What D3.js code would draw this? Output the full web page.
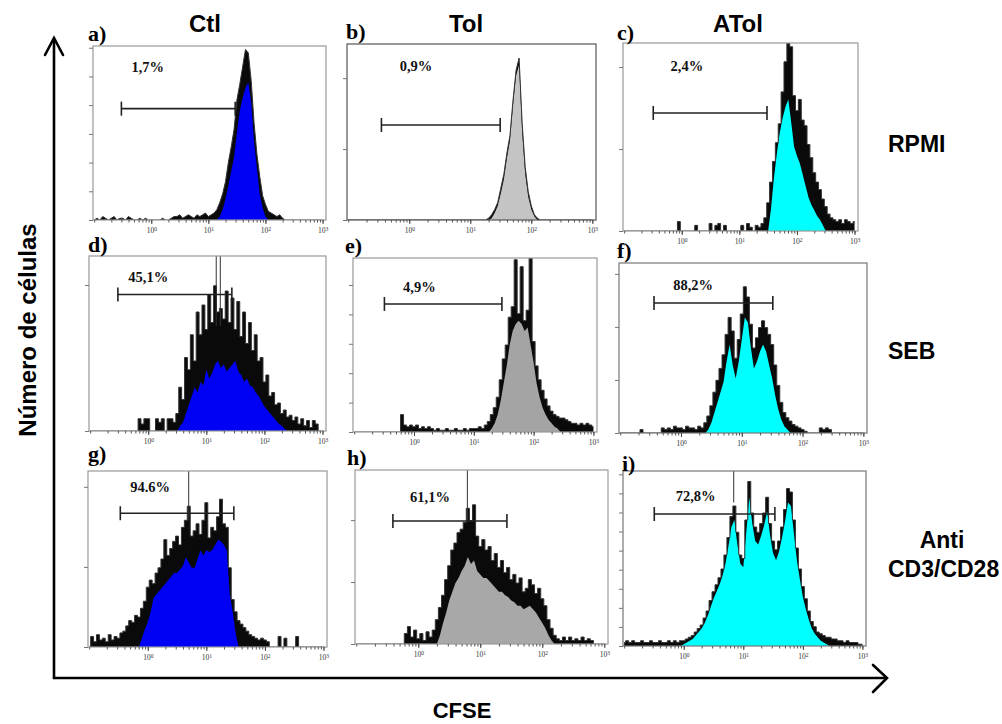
<!DOCTYPE html>
<html><head><meta charset="utf-8">
<script src="https://cdn.jsdelivr.net/npm/d3@7"></script>
<style>body{margin:0;background:#fff;overflow:hidden}</style>
</head><body>
<svg id="chart" width="1002" height="724"></svg>
<script>
// ---------------- DATA ----------------
const panelIds = ["a","b","c","d","e","f","g","h","i"];
const columnLabels = ["Ctl","Tol","ATol"];
const rowLabels = ["RPMI","SEB","Anti","CD3/CD28"];
const axisTitleX = "CFSE";
const axisTitleY = "Número de células";
const percentLabels = ["1,7%","0,9%","2,4%","45,1%","4,9%","88,2%","94.6%","61,1%","72,8%"];
const gateLow  = [0.30,0.35,0.32,0.30,0.32,0.36,0.34,0.39,0.32];
const gateHigh = [29.5,30.9,30.2,27.5,29.5,32.4,29.5,26.9,33.9];
const gateLevel = [64,54,62.8,78,73.6,76.5,76,70.7,75.4];
const labelAt = [0.87,1.29,1.23,1.0,1.23,1.58,1.1,1.55,1.58];
const labelLevel = [85,84.7,85,85,80.5,84,88,81.6,82.9];
const xTickValues = [1,10,100,1000];
const countTickStep = [16.5,40.3,43.6,83.4,16.9,31.2,45.5,35.6,10.9];
// channels: log10 CFSE from -1 to 3 in steps of 0.05 (81 channels)
const channelLogStart = -1, channelLogStep = 0.05;

// counts (% of panel full scale) — envelope of events (black) and filled body
const ctlRpmiUpper = [0,1,0,2,1,0,1,2,0,1, 1,0,2,1,0,0,1,0,1,0, 0,0,0,0,1,0,0,1,2,2, 3,1,2,3,2,1,3,2,3,4,
  2,3,4,6,10,15,22,33,42,52, 69,78,88,98,96,80,56,38,25,14, 9,5,4,3,2,3,1,0,0,0, 0,0,0,0,0,0,0,0,0,0, 0];
const ctlRpmiFill = [0,0,0,0,0,0,0,0,0,0, 0,0,0,0,0,0,0,0,0,0, 0,0,0,0,0,0,0,0,0,0, 0,0,0,0,0,0,0,0,0,0,
  0,0,0,0,2,6,12,20,28,36, 50,63,70,76,79,68,45,30,15,7, 2,0,0,0,0,0,0,0,0,0, 0,0,0,0,0,0,0,0,0,0, 0];
const tolRpmiUpper = [0,0,0,0,0,0,0,0,0,0, 0,0,0,0,0,0,0,0,0,0, 0,0,0,0,0,0,0,0,0,0, 0,0,0,0,0,0,0,0,0,0,
  0,0,0,0,0,0,1,3,6,10, 18,26,38,48,68,85,92,55,30,16, 8,3,1,0,0,0,0,0,0,0, 0,0,0,0,0,0,0,0,0,0, 0];
const tolRpmiFill = [0,0,0,0,0,0,0,0,0,0, 0,0,0,0,0,0,0,0,0,0, 0,0,0,0,0,0,0,0,0,0, 0,0,0,0,0,0,0,0,0,0,
  0,0,0,0,0,0,0,1,4,8, 15,23,35,45,65,82,88,50,26,13, 6,2,0,0,0,0,0,0,0,0, 0,0,0,0,0,0,0,0,0,0, 0];
const atolRpmiUpper = [0,0,0,0,0,0,0,0,0,0, 0,0,0,0,0,0,0,0,0,5, 0,0,0,0,0,3,0,0,0,0, 4,0,3,4,0,3,0,0,0,0,
  0,3,0,4,2,0,3,2,4,7, 15,26,37,47,57,74,90,100,98,72, 64,70,59,56,46,39,31,26,22,17, 13,9,7,6,5,6,4,6,5,4, 5];
const atolRpmiFill = [0,0,0,0,0,0,0,0,0,0, 0,0,0,0,0,0,0,0,0,0, 0,0,0,0,0,0,0,0,0,0, 0,0,0,0,0,0,0,0,0,0,
  0,0,0,0,0,0,0,0,0,0, 0,12,28,41,52,60,66,70,58,45, 40,36,30,24,18,14,11,8,6,3, 0,0,0,0,0,0,0,0,0,0, 0];
const ctlSebUpper = [0,0,0,0,0,0,0,0,0,0, 0,0,0,0,0,0,0,7,4,7, 7,0,0,7,5,7,0,7,7,5, 10,25,18,42,35,55,40,68,55,72,
  58,78,62,83,68,70,64,80,62,76, 58,74,54,68,50,62,46,55,40,42, 28,32,20,22,15,16,10,12,8,9, 6,8,4,7,3,6,2,6,4,0, 0];
const ctlSebFill = [0,0,0,0,0,0,0,0,0,0, 0,0,0,0,0,0,0,0,0,0, 0,0,0,0,0,0,0,0,0,0, 0,3,5,10,15,20,25,22,28,26,
  35,30,33,38,40,36,38,34,36,38, 40,34,32,28,30,26,25,22,20,17, 14,12,10,8,6,4,3,1,0,0, 0,0,0,0,0,0,0,0,0,0, 0];
const tolSebUpper = [0,0,0,0,0,0,0,0,0,0, 0,0,0,0,0,0,10,4,3,4, 3,4,2,3,2,3,2,1,2,1, 1,2,1,1,2,1,1,2,1,2,
  2,2,3,2,4,6,10,14,20,30, 42,50,66,72,99,68,95,64,70,100, 52,38,30,24,19,15,12,10,9,8, 8,7,6,5,5,4,5,4,5,4, 3];
const tolSebFill = [0,0,0,0,0,0,0,0,0,0, 0,0,0,0,0,0,0,0,0,0, 0,0,0,0,0,0,0,0,0,0, 0,0,0,0,0,0,0,0,0,0,
  0,0,0,0,0,0,2,5,10,18, 28,38,50,58,62,64,62,58,60,50, 40,28,20,14,10,7,5,3,2,0, 0,0,0,0,0,0,0,0,0,0, 0];
const atolSebUpper = [0,0,0,0,0,0,0,2,0,0, 0,0,0,0,3,2,3,2,4,3, 3,2,4,3,3,2,4,3,6,10, 16,24,31,38,46,58,68,60,44,55,
  70,86,80,64,50,56,62,66,62,58, 52,40,28,18,12,9,7,5,4,3, 2,1,0,0,0,0,3,2,3,2, 0,0,0,0,0,0,0,0,0,0, 0];
const atolSebFill = [0,0,0,0,0,0,0,0,0,0, 0,0,0,0,0,0,0,0,0,0, 0,0,0,0,0,0,0,0,0,2, 6,12,18,24,30,42,52,40,32,42,
  55,68,65,50,38,42,48,52,48,40, 32,22,14,8,4,2,0,0,0,0, 0,0,0,0,0,0,0,0,0,0, 0,0,0,0,0,0,0,0,0,0, 0];
const ctlCd3Upper = [0,6,3,7,4,5,3,7,4,6, 5,8,9,12,15,14,18,17,22,26, 34,38,36,42,45,50,61,52,56,60, 63,58,68,72,80,63,66,70,64,72,
  82,62,68,66,74,84,70,68,45,27, 20,15,13,11,9,7,6,5,4,5, 4,3,0,0,0,6,0,5,0,0, 0,6,0,0,0,0,0,0,0,0, 0];
const ctlCd3Fill = [0,0,0,0,0,0,0,0,0,0, 0,0,0,0,0,0,0,0,5,10, 14,20,28,30,32,34,36,38,40,42, 42,44,46,51,48,45,45,50,55,52,
  55,54,55,58,61,60,58,55,30,20, 8,0,0,0,0,0,0,0,0,0, 0,0,0,0,0,0,0,0,0,0, 0,0,0,0,0,0,0,0,0,0, 0];
const tolCd3Upper = [0,0,0,0,0,0,0,0,0,0, 0,0,0,0,0,0,6,10,4,8, 3,6,2,7,4,8,14,21,28,37, 45,54,58,64,66,70,78,71,80,62,
  56,60,54,56,48,52,44,48,41,44, 37,40,35,38,30,32,37,34,29,32, 26,22,14,9,5,3,2,4,2,4, 2,3,2,4,2,3,2,0,0,0, 0];
const tolCd3Fill = [0,0,0,0,0,0,0,0,0,0, 0,0,0,0,0,0,0,0,0,0, 0,0,0,0,0,0,0,5,12,18, 25,30,35,38,42,45,50,46,48,42,
  40,38,38,36,34,32,30,30,28,27, 25,24,22,22,20,21,22,20,18,15, 12,9,5,2,0,0,0,0,0,0, 0,0,0,0,0,0,0,0,0,0, 0];
const atolCd3Upper = [2,3,2,3,2,2,3,2,2,3, 2,2,3,2,2,3,2,3,2,3, 3,4,5,6,8,10,12,16,20,26, 31,35,39,44,52,62,74,80,65,52,
  50,72,94,76,68,65,70,76,85,70, 60,55,60,68,78,90,88,72,56,44, 34,27,20,14,11,8,7,6,5,5, 4,4,3,3,2,3,2,2,2,1, 1];
const atolCd3Fill = [0,0,0,0,0,0,0,0,0,0, 0,0,0,0,0,0,0,0,0,0, 1,2,3,4,6,8,10,13,17,22, 27,31,35,40,47,57,68,72,58,47,
  45,65,85,70,60,58,63,69,77,63, 53,49,54,62,71,82,80,64,49,38, 28,21,15,10,7,5,3,2,1,0, 0,0,0,0,0,0,0,0,0,0, 0];

// off-scale single-channel peaks (CFSE value, level reached from top)
const peakPanel = [3,3,6,7,8];
const peakAt = [14.8,17.4,5.0,6.2,6.9];
const peakLevel = [60,60,72,70,82];

const upperSeries = [ctlRpmiUpper,tolRpmiUpper,atolRpmiUpper,ctlSebUpper,tolSebUpper,atolSebUpper,ctlCd3Upper,tolCd3Upper,atolCd3Upper];
const fillSeries  = [ctlRpmiFill,tolRpmiFill,atolRpmiFill,ctlSebFill,tolSebFill,atolSebFill,ctlCd3Fill,tolCd3Fill,atolCd3Fill];

// ---------------- LAYOUT / STYLE ----------------
const boxes = [
  [93,46,326,220],[347,44,596,220],[623,43,858,231],
  [89,256,326,431],[353,258,597,432],[619,263,867,433],
  [88,471,327,647],[355,470,608,644],[623,471,866,646]];
const fillColors = ["#0000f5","#c4c4c4","#00ffff","#0000f5","#a4a4a4","#00ffff","#0000f5","#a8a8a8","#00ffff"];
const frameColors = ["#999","#555","#999","#999","#999","#777","#999","#999","#777"];
const stepped = [false,false,true,true,true,true,true,true,true];
const letterPos = [[88,41],[346,39],[617,40],[88,252],[345,253],[617,258],[88,461],[347,465],[622,471]];
const SANS = "'Liberation Sans', Arial, sans-serif";
const SERIF = "'Liberation Serif', 'Times New Roman', serif";

const svg = d3.select("#chart");
svg.append("rect").attr("width",1002).attr("height",724).attr("fill","#fff");
const defs = svg.append("defs");
const logDomain = [Math.pow(10,-1.02), Math.pow(10,3.06)];

panelIds.forEach((id,k)=>{
  const [x0,y0,x1,y1] = boxes[k];
  const x = d3.scaleLog().domain(logDomain).range([x0,x1]);
  const y = d3.scaleLinear().domain([0,100]).range([y1,y0]);
  const g = svg.append("g");
  defs.append("clipPath").attr("id","clip-"+id).append("rect")
    .attr("x",x0).attr("y",y0).attr("width",x1-x0).attr("height",y1-y0);

  const toPts = arr => arr.map((v,i)=>[Math.pow(10, channelLogStart + i*channelLogStep), v]);
  const up = toPts(upperSeries[k]), fl = toPts(fillSeries[k]);
  const upCurve = stepped[k] ? d3.curveStep : d3.curveLinear;
  const areaUp = d3.area().x(d=>x(d[0])).y0(y(0)).y1(d=>y(d[1])).curve(upCurve);
  const areaFl = d3.area().x(d=>x(d[0])).y0(y(0)).y1(d=>y(d[1])).curve(d3.curveLinear);
  const line = d3.line().x(d=>x(d[0])).y(d=>y(d[1])).curve(upCurve);
  const h = g.append("g").attr("clip-path","url(#clip-"+id+")");
  h.append("path").datum(up).attr("d",areaUp).attr("fill","#0a0a0a");
  h.append("path").datum(fl).attr("d",areaFl).attr("fill",fillColors[k]);
  h.append("path").datum(up).attr("d",line).attr("fill","none").attr("stroke","#333").attr("stroke-width",1);

  // off-scale peaks
  peakPanel.forEach((p,j)=>{
    if(p!==k) return;
    h.append("line").attr("x1",x(peakAt[j])).attr("x2",x(peakAt[j]))
      .attr("y1",y(100)).attr("y2",y(peakLevel[j])).attr("stroke","#333").attr("stroke-width",1);
  });

  // frame
  g.append("rect").attr("x",x0).attr("y",y0).attr("width",x1-x0).attr("height",y1-y0)
    .attr("fill","none").attr("stroke",frameColors[k]).attr("stroke-width",1.2);

  // y ticks
  const yAxis = d3.axisLeft(y).tickValues(d3.range(0,100.01,countTickStep[k])).tickSize(4).tickFormat("");
  const ya = g.append("g").attr("transform",`translate(${x0},0)`).call(yAxis);
  ya.select(".domain").remove();
  ya.selectAll("line").attr("stroke","#777");

  // x minor ticks
  const minor = [];
  for(let e=-1;e<=3;e++) for(let m=1;m<=9;m++){ const v=m*Math.pow(10,e); if(v>=logDomain[0]&&v<=logDomain[1]) minor.push(v); }
  const xm = g.append("g").attr("transform",`translate(0,${y1})`)
    .call(d3.axisBottom(x).tickValues(minor).tickSize(2.5).tickFormat(""));
  xm.select(".domain").remove();
  xm.selectAll("line").attr("stroke","#555");
  const xM = g.append("g").attr("transform",`translate(0,${y1})`)
    .call(d3.axisBottom(x).tickValues(xTickValues).tickSize(4).tickPadding(4).tickFormat(()=>"10"));
  xM.select(".domain").remove();
  xM.selectAll("line").attr("stroke","#444");
  xM.selectAll("text").attr("font-family",SERIF).attr("font-size",7.5).attr("fill","#333")
    .each(function(d){ d3.select(this).append("tspan").attr("dy","-0.45em").attr("font-size",5.5).text(Math.round(Math.log10(d))); });

  // gate
  const gy = y(gateLevel[k]), ga = x(gateLow[k]), gb = x(gateHigh[k]);
  const gg = g.append("g").attr("stroke","#222").attr("stroke-width",1.6);
  gg.append("line").attr("x1",ga).attr("x2",gb).attr("y1",gy).attr("y2",gy);
  gg.append("line").attr("x1",ga).attr("x2",ga).attr("y1",gy-7).attr("y2",gy+7);
  gg.append("line").attr("x1",gb).attr("x2",gb).attr("y1",gy-7).attr("y2",gy+7);

  g.append("text").attr("x",x(labelAt[k])).attr("y",y(labelLevel[k])).attr("text-anchor","middle")
    .attr("font-family",SERIF).attr("font-weight","bold").attr("font-size",14.5).attr("fill","#111")
    .text(percentLabels[k]);

  svg.append("text").attr("x",letterPos[k][0]).attr("y",letterPos[k][1])
    .attr("font-family",SERIF).attr("font-weight","bold").attr("font-size",22).attr("fill","#000")
    .text(id+")");
});

// column headers
const headerX = [205,466,738];
columnLabels.forEach((t,i)=>svg.append("text").attr("x",headerX[i]).attr("y",32).attr("text-anchor","middle")
  .attr("font-family",SANS).attr("font-weight","bold").attr("font-size",24).text(t));

// row labels
const rowPos = [[888,152,"start"],[888,359,"start"],[942,548,"middle"],[888,577,"start"]];
rowLabels.forEach((t,i)=>svg.append("text").attr("x",rowPos[i][0]).attr("y",rowPos[i][1]).attr("text-anchor",rowPos[i][2])
  .attr("font-family",SANS).attr("font-weight","bold").attr("font-size",23).text(t));

// outer axes with arrows
const ax = svg.append("g").attr("stroke","#000").attr("stroke-width",2.6).attr("fill","none").attr("stroke-linecap","round");
ax.append("line").attr("x1",54).attr("y1",39).attr("x2",54).attr("y2",678);
ax.append("line").attr("x1",54).attr("y1",678).attr("x2",886).attr("y2",678);
ax.append("polyline").attr("points","45,55 54,38 63,55");
ax.append("polyline").attr("points","873,665 887,678 873,692");

svg.append("text").attr("x",462).attr("y",718).attr("text-anchor","middle")
  .attr("font-family",SANS).attr("font-weight","bold").attr("font-size",22).text(axisTitleX);
svg.append("text").attr("transform","translate(36,330) rotate(-90)").attr("text-anchor","middle")
  .attr("font-family",SANS).attr("font-weight","bold").attr("font-size",24).text(axisTitleY);
</script>
</body></html>
